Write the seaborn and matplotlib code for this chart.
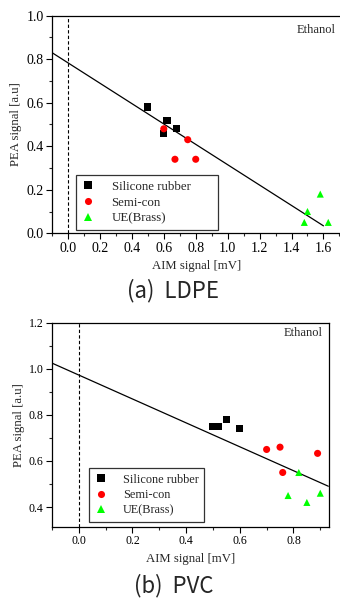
import pandas as pd
import matplotlib.pyplot as plt
import seaborn as sns
from matplotlib.ticker import MultipleLocator

sns.set_theme(style="ticks")
plt.rcParams['font.family'] = ['Liberation Serif', 'DejaVu Serif']

# (a) LDPE data
ldpe_sil_x = [0.50, 0.62, 0.68, 0.60]
ldpe_sil_y = [0.58, 0.52, 0.48, 0.46]
ldpe_semi_x = [0.60, 0.75, 0.67, 0.80]
ldpe_semi_y = [0.48, 0.43, 0.34, 0.34]
ldpe_ue_x = [1.48, 1.50, 1.58, 1.63]
ldpe_ue_y = [0.05, 0.10, 0.18, 0.05]
ldpe_fit = (0.783, -0.468)   # intercept, slope
ldpe_fit_x = [-0.1, 1.6]

# (b) PVC data
pvc_sil_x = [0.50, 0.52, 0.55, 0.60]
pvc_sil_y = [0.75, 0.75, 0.78, 0.74]
pvc_semi_x = [0.70, 0.75, 0.76, 0.89]
pvc_semi_y = [0.65, 0.66, 0.55, 0.633]
pvc_ue_x = [0.78, 0.82, 0.85, 0.90]
pvc_ue_y = [0.45, 0.55, 0.42, 0.46]
pvc_fit = (0.973, -0.519)
pvc_fit_x = [-0.1, 0.93]

series = ['Silicone rubber', 'Semi-con', 'UE(Brass)']
colors = {'Silicone rubber': 'black', 'Semi-con': '#ff0000', 'UE(Brass)': '#00ff00'}
markers = {'Silicone rubber': 's', 'Semi-con': 'o', 'UE(Brass)': '^'}


def make_df(sx, sy, mx, my, ux, uy):
    rows = []
    for name, xs, ys in zip(series, [sx, mx, ux], [sy, my, uy]):
        for x, y in zip(xs, ys):
            rows.append({'x': x, 'y': y, 'Sample': name})
    return pd.DataFrame(rows)


def draw(ax, df, fit, fit_x, xlim, ylim, fs, leg_box, leg_fs, eth_pos):
    ax.axvline(0, color='black', linestyle=(0, (3, 2)), linewidth=0.8)
    fx = pd.Series(fit_x)
    ax.plot(fx, fit[0] + fit[1] * fx, color='black', linewidth=0.9)
    sns.scatterplot(data=df, x='x', y='y', hue='Sample', style='Sample',
                    palette=colors, markers=markers, s=26, linewidth=0,
                    ax=ax, zorder=3)
    ax.set_xlim(*xlim)
    ax.set_ylim(*ylim)
    ax.xaxis.set_major_locator(MultipleLocator(0.2))
    ax.xaxis.set_minor_locator(MultipleLocator(0.1))
    ax.yaxis.set_major_locator(MultipleLocator(0.2))
    ax.yaxis.set_minor_locator(MultipleLocator(0.1))
    ax.xaxis.set_major_formatter(lambda v, p: f"{v:.1f}")
    ax.yaxis.set_major_formatter(lambda v, p: f"{v:.1f}")
    ax.tick_params(which='major', direction='out', length=4, width=0.8,
                   labelsize=fs, colors='black', pad=2)
    ax.tick_params(which='minor', direction='out', length=2, width=0.8)
    ax.tick_params(which='both', top=False, right=False)
    for sp in ax.spines.values():
        sp.set_color('black')
        sp.set_linewidth(0.9)
        sp.set_visible(True)
    ax.set_xlabel('AIM signal [mV]', fontsize=9.2, labelpad=4)
    ax.set_ylabel('PEA signal [a.u]', fontsize=9.2, labelpad=3)
    leg = ax.legend(loc='lower left', bbox_to_anchor=leg_box, mode='expand',
                    borderaxespad=0, fontsize=leg_fs, frameon=True,
                    fancybox=False, edgecolor='black', borderpad=0.45,
                    handlelength=1.0, handletextpad=1.3, labelspacing=0.28)
    leg.get_frame().set_linewidth(0.9)
    ax.text(eth_pos[0], eth_pos[1], 'Ethanol', transform=ax.transAxes,
            ha='right', va='center', fontsize=9)


fig = plt.figure(figsize=(3.4, 5.98), dpi=100)
ax1 = fig.add_axes([0.153, 0.6099, 0.850, 0.364])
ax2 = fig.add_axes([0.153, 0.1192, 0.815, 0.341])

df1 = make_df(ldpe_sil_x, ldpe_sil_y, ldpe_semi_x, ldpe_semi_y, ldpe_ue_x, ldpe_ue_y)
df2 = make_df(pvc_sil_x, pvc_sil_y, pvc_semi_x, pvc_semi_y, pvc_ue_x, pvc_ue_y)

draw(ax1, df1, ldpe_fit, ldpe_fit_x, (-0.1, 1.71), (0.0, 1.0), 10,
     (0.083, 0.015, 0.49, 0.2), 9.3, (0.983, 0.934))
draw(ax2, df2, pvc_fit, pvc_fit_x, (-0.1, 0.933), (0.3145, 1.2), 8.6,
     (0.134, 0.023, 0.415, 0.2), 8.8, (0.977, 0.95))

# captions in a narrower sans face
title_family = ['Noto Sans CJK KR', 'DejaVu Sans']
fig.text(0.51, 1 - 291 / 598, '(a)  LDPE', ha='center', va='center',
         fontsize=16, family=title_family)
fig.text(0.51, 1 - 586 / 598, '(b)  PVC', ha='center', va='center',
         fontsize=16, family=title_family)

fig.savefig('out.png', dpi=100)
